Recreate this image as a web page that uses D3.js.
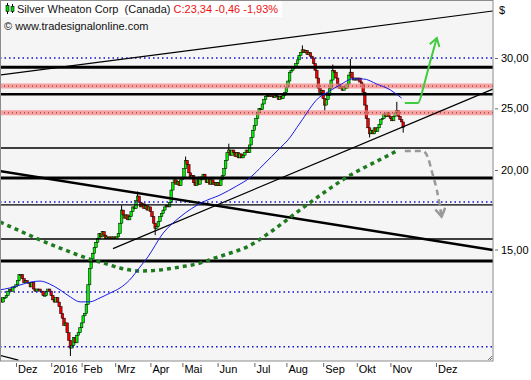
<!DOCTYPE html>
<html>
<head>
<meta charset="utf-8">
<script src="https://cdn.jsdelivr.net/npm/d3@7"></script>
<style>
  body { margin: 0; background: #fff; }
  svg { display: block; font-family: "Liberation Sans", Arial, sans-serif; font-size: 11px; }
</style>
</head>
<body>
<svg id="chart" width="531" height="380"></svg>
<script>
// Daily closes per month (C$)
const firstOpen = 12.6;
const nov15 = [12.5, 12.4, 12.6, 12.6, 12.7, 12.9, 13.0, 12.9, 13.1, 13.1];
const dec15 = [13.2, 13.4, 13.7, 13.7, 13.5, 13.3, 13.4, 13.3, 13.3, 13.1, 13.3, 13.0, 12.9, 13.0, 13.0, 12.9, 12.9, 12.7, 12.7, 12.9, 13.0, 12.9];
const jan16 = [12.7, 12.5, 12.4, 12.6, 12.4, 12.2, 11.9, 11.7, 11.4, 11.5, 11.1, 10.8, 10.5, 10.6, 10.9, 10.7, 11.0, 11.1, 11.3];
const feb16 = [11.5, 11.8, 11.9, 12.3, 13.2, 14.0, 14.5, 14.8, 15.1, 15.4, 15.6, 15.9, 15.7, 16.0, 15.8, 15.6, 15.7, 15.6, 15.7, 15.6, 15.7];
const mar16 = [15.6, 15.7, 15.9, 16.5, 17.3, 17.0, 16.8, 17.0, 16.7, 16.9, 17.2, 17.5, 17.4, 17.9, 18.2, 17.8, 17.5, 17.7, 17.4, 17.6, 17.3, 17.5];
const apr16 = [17.2, 16.9, 16.5, 16.2, 16.3, 16.6, 16.9, 17.1, 17.3, 17.5, 17.6, 17.5, 17.8, 18.6, 19.1, 19.3, 19.0, 19.2, 18.9, 19.3];
const may16 = [19.4, 20.1, 20.7, 20.4, 19.8, 19.4, 19.6, 19.1, 18.9, 19.3, 19.0, 19.5, 19.3, 19.7, 19.4, 19.1, 19.4, 19.0, 19.3, 19.0, 19.1, 18.9];
const jun16 = [19.1, 18.9, 19.3, 19.6, 20.1, 20.7, 21.3, 21.5, 21.1, 21.5, 21.3, 21.0, 21.3, 20.9, 21.2, 20.9, 21.1, 21.3, 21.5, 21.3, 21.9, 22.5, 23.1];
const jul16 = [23.5, 24.1, 24.6, 25.0, 24.9, 25.4, 25.8, 26.1, 26.2, 26.1, 26.3, 26.1, 26.0, 26.2, 26.1, 25.8, 26.1, 25.9, 26.2, 26.5];
const aug16 = [27.0, 27.6, 28.5, 28.7, 29.0, 29.0, 29.4, 29.8, 30.3, 30.6, 30.9, 30.6, 30.8, 30.4, 30.6, 30.2, 30.0, 29.4, 28.7, 27.9, 26.9, 26.5, 26.7];
const sep16 = [25.9, 25.3, 25.8, 26.2, 26.9, 27.7, 28.7, 28.5, 27.9, 27.3, 26.9, 27.1, 26.7, 27.0, 26.9, 27.3, 28.2, 28.5, 27.9, 27.7, 27.9];
const oct16 = [27.7, 27.9, 27.5, 27.3, 26.5, 25.3, 24.1, 23.3, 22.8, 23.1, 22.8, 23.3, 23.0, 23.3, 23.6, 24.0, 24.1, 24.5, 24.3, 24.6, 24.3];
const nov16 = [24.1, 23.9, 24.3, 24.6, 24.8, 24.3, 24.0, 23.80, 23.34];

// a few long wicks [day, price]
const wicks = [[44, 10.2], [76, 17.6], [86, 18.5], [97, 15.8], [116, 21.0], [143, 22.0], [189, 31.4],
               [203, 24.8], [208, 29.3], [219, 29.9], [231, 22.5], [248, 25.6], [252, 22.9]];

// moving averages [day, price]
const ma50 = [[0, 12.96], [6, 13.05], [12.5, 13.19], [19, 13.33], [25, 13.38], [31, 13.24], [37.5, 12.96],
              [44, 12.63], [50, 12.41], [56, 12.41], [62.5, 12.59], [69, 12.82], [75, 13.05], [81, 13.43],
              [87.5, 14.08], [92, 14.55], [102, 15.92], [112.5, 16.87], [127, 17.82], [137.5, 18.27],
              [148, 18.88], [156, 19.43], [164.5, 20.37], [175, 21.66], [180, 22.30], [187.5, 23.71],
              [199, 25.95], [206, 26.62], [212.5, 27.21], [220.5, 27.81], [227, 27.81], [235.5, 27.30],
              [244, 26.72], [251, 25.95]];
const ma200 = [[0, 16.57], [12.5, 16.04], [25, 15.53], [37.5, 15.08], [44, 14.86], [56, 14.49], [67, 14.23],
               [75, 14.03], [87.5, 13.88], [100, 13.93], [112.5, 14.08], [125, 14.28], [134.5, 14.55],
               [144, 14.81], [154.5, 15.14], [169, 15.98], [187.5, 17.31], [203, 18.47], [219, 19.64],
               [229.5, 20.29], [239.5, 20.89], [249, 21.50]];

// horizontal levels
const blackLevels = [[29.0, 3], [26.3, 2.5], [21.66, 1.5], [19.43, 3], [17.63, 1.2], [15.58, 1.5], [14.39, 3]];
const pinkLevels = [27.1, 24.6];
const blueLevels = [30.0, 17.82, 12.86, 10.55];

// trend lines [[day, price], [day, price], width]
const trendLines = [
  [[0, 28.2], [308, 35.56], 1.2],
  [[0, 19.93], [308, 14.97], 2.5],
  [[70.6, 15.05], [308, 26.8], 1.2],
  [[0, 10.23], [11.5, 10.05], 1.2]
];

// scenario arrows [day, price]
const bullPath = [[253, 25.49], [261.3, 25.49], [265, 27.2], [268.8, 29.57], [273, 32.25]];
const bearPath = [[253, 21.42], [264.4, 21.42], [267.5, 20.9], [270, 19.86], [273, 18.6], [276, 16.9]];

const yTicks = [15, 20, 25, 30];
const tickDays = [10, 32, 51, 72, 94, 114, 136, 159, 179, 202, 223, 244, 272.5];
const tickLabels = ["Dez", "2016", "Feb", "Mrz", "Apr", "Mai", "Jun", "Jul", "Aug", "Sep", "Okt", "Nov", "Dez"];

const closes = [].concat(nov15, dec15, jan16, feb16, mar16, apr16, may16, jun16, jul16, aug16, sep16, oct16, nov16);
const candles = closes.map((c, i) => {
  const o = i === 0 ? firstOpen : closes[i - 1];
  return { i, o, c, hi: Math.max(o, c), lo: Math.min(o, c) };
});
wicks.forEach(([i, p]) => {
  candles[i].hi = Math.max(candles[i].hi, p);
  candles[i].lo = Math.min(candles[i].lo, p);
});

const plotW = 493, plotH = 361;
const x = d3.scaleLinear().domain([0, 308]).range([0, 492.8]);
const y = d3.scaleLog().domain([15, 30]).range([249.5, 58]);

const svg = d3.select("#chart");

const defs = svg.append("defs");
defs.append("clipPath").attr("id", "plotclip")
  .append("rect").attr("x", 1).attr("y", 1).attr("width", plotW - 1).attr("height", plotH - 1);
defs.append("marker").attr("id", "headGreen")
  .attr("viewBox", "-10 -6 12 12").attr("refX", 0).attr("refY", 0)
  .attr("markerWidth", 12).attr("markerHeight", 12).attr("markerUnits", "userSpaceOnUse")
  .attr("orient", "auto")
  .append("path").attr("d", "M-8,-5 L0,0 L-8,5").attr("fill", "none")
  .attr("stroke", "#3fcc3f").attr("stroke-width", 2);
defs.append("marker").attr("id", "headGray")
  .attr("viewBox", "-10 -6 12 12").attr("refX", 0).attr("refY", 0)
  .attr("markerWidth", 12).attr("markerHeight", 12).attr("markerUnits", "userSpaceOnUse")
  .attr("orient", "auto")
  .append("path").attr("d", "M-8,-5 L0,0 L-8,5").attr("fill", "none")
  .attr("stroke", "#999").attr("stroke-width", 2.5);

// plot background
svg.append("rect").attr("x", 0).attr("y", 0).attr("width", plotW).attr("height", plotH).attr("fill", "#f5f5f5");

const g = svg.append("g").attr("clip-path", "url(#plotclip)");

// candles
const cw = 2.6;
const cg = g.append("g");
cg.selectAll("line.wick")
  .data(candles)
  .join("line")
  .attr("class", "wick")
  .attr("x1", d => x(d.i)).attr("x2", d => x(d.i))
  .attr("y1", d => y(d.hi)).attr("y2", d => y(d.lo))
  .attr("stroke", "#000").attr("stroke-width", 1);
cg.selectAll("rect.body")
  .data(candles)
  .join("rect")
  .attr("class", "body")
  .attr("x", d => x(d.i) - cw / 2)
  .attr("width", cw)
  .attr("y", d => y(Math.max(d.o, d.c)))
  .attr("height", d => Math.max(1, Math.abs(y(d.o) - y(d.c))))
  .attr("fill", d => d.c >= d.o ? "#00ee00" : "#ee0000")
  .attr("stroke", "#000").attr("stroke-width", 0.5);

// horizontal levels
g.selectAll("line.pink")
  .data(pinkLevels)
  .join("line")
  .attr("x1", 0).attr("x2", plotW)
  .attr("y1", d => y(d)).attr("y2", d => y(d))
  .attr("stroke", "#f58080").attr("stroke-opacity", 0.7).attr("stroke-width", 5);
g.selectAll("line.pinkdot")
  .data(pinkLevels)
  .join("line")
  .attr("x1", 0).attr("x2", plotW)
  .attr("y1", d => y(d)).attr("y2", d => y(d))
  .attr("stroke", "#8a2020").attr("stroke-width", 1).attr("stroke-dasharray", "1,3");
g.selectAll("line.black")
  .data(blackLevels)
  .join("line")
  .attr("x1", 0).attr("x2", plotW)
  .attr("y1", d => y(d[0])).attr("y2", d => y(d[0]))
  .attr("stroke", "#000").attr("stroke-width", d => d[1]);
g.selectAll("line.blue")
  .data(blueLevels)
  .join("line")
  .attr("x1", 0).attr("x2", plotW)
  .attr("y1", d => y(d)).attr("y2", d => y(d))
  .attr("stroke", "#1010cc").attr("stroke-width", 1.5).attr("stroke-dasharray", "1.5,3");

// trend lines
g.selectAll("line.trend")
  .data(trendLines)
  .join("line")
  .attr("x1", d => x(d[0][0])).attr("y1", d => y(d[0][1]))
  .attr("x2", d => x(d[1][0])).attr("y2", d => y(d[1][1]))
  .attr("stroke", "#000").attr("stroke-width", d => d[2]);

// moving averages
const line = d3.line().x(d => x(d[0])).y(d => y(d[1])).curve(d3.curveMonotoneX);
g.append("path").attr("d", line(ma200)).attr("fill", "none")
  .attr("stroke", "#1f7a1f").attr("stroke-width", 3.5).attr("stroke-dasharray", "4,4");
g.append("path").attr("d", line(ma50)).attr("fill", "none")
  .attr("stroke", "#1a1ae6").attr("stroke-width", 1);

// scenario arrows
g.append("path").attr("d", line(bearPath)).attr("fill", "none")
  .attr("stroke", "#999").attr("stroke-width", 2.5).attr("stroke-dasharray", "6,4")
  .attr("marker-end", "url(#headGray)");
g.append("path").attr("d", line(bullPath)).attr("fill", "none")
  .attr("stroke", "#3fcc3f").attr("stroke-width", 2)
  .attr("marker-end", "url(#headGreen)");

// frame
svg.append("rect").attr("x", 0.5).attr("y", 0.5).attr("width", plotW - 0.5).attr("height", plotH - 0.5)
  .attr("fill", "none").attr("stroke", "#8c8c8c");
svg.append("path").attr("d", `M${plotW - 5},${plotH - 1} L${plotW - 1},${plotH - 5} M${plotW - 3},${plotH - 1} L${plotW - 1},${plotH - 3}`)
  .attr("stroke", "#777").attr("fill", "none");

// right axis
const ya = svg.append("g").attr("transform", `translate(${plotW + 2},0)`)
  .call(d3.axisRight(y).tickValues(yTicks).tickSize(3).tickPadding(3)
    .tickFormat(d => d.toFixed(2).replace(".", ",")));
ya.select(".domain").remove();
ya.selectAll("line").attr("stroke", "#666");
ya.selectAll("text").attr("fill", "#000").style("font-size", "11px").style("font-family", "'Liberation Sans', Arial, sans-serif");
svg.append("text").attr("x", 499).attr("y", 14).text("$").attr("fill", "#000");

// bottom axis
const xa = svg.append("g").attr("transform", `translate(0,${plotH + 2})`)
  .call(d3.axisBottom(x).tickValues(tickDays).tickSize(4).tickPadding(0)
    .tickFormat((d, k) => tickLabels[k]));
xa.select(".domain").remove();
xa.selectAll("line").attr("stroke", "#666");
xa.selectAll("text").attr("text-anchor", "start").attr("dx", 1.5).attr("dy", "0.55em").attr("y", 4)
  .attr("fill", "#000").style("font-size", "11px").style("font-family", "'Liberation Sans', Arial, sans-serif");

// header
svg.append("rect").attr("x", 1).attr("y", 1).attr("width", 281).attr("height", 16).attr("fill", "#fff");
const icon = svg.append("g");
icon.append("line").attr("x1", 7.5).attr("x2", 7.5).attr("y1", 3).attr("y2", 14).attr("stroke", "#000");
icon.append("rect").attr("x", 6).attr("y", 5.5).attr("width", 3).attr("height", 6).attr("fill", "#00dd00").attr("stroke", "#000").attr("stroke-width", 0.6);
icon.append("line").attr("x1", 12.5).attr("x2", 12.5).attr("y1", 4).attr("y2", 13).attr("stroke", "#000");
icon.append("rect").attr("x", 11).attr("y", 6.5).attr("width", 3).attr("height", 5).attr("fill", "#00dd00").attr("stroke", "#000").attr("stroke-width", 0.6);
const title = svg.append("text").attr("x", 17).attr("y", 13).attr("xml:space", "preserve");
title.append("tspan").attr("fill", "#111").text("Silver Wheaton Corp  (Canada) ");
title.append("tspan").attr("fill", "#ee1111").text("C:23,34 -0,46 -1,93%");
svg.append("text").attr("x", 4).attr("y", 30).attr("fill", "#111").text("\u00a9 www.tradesignalonline.com");
</script>
</body>
</html>
